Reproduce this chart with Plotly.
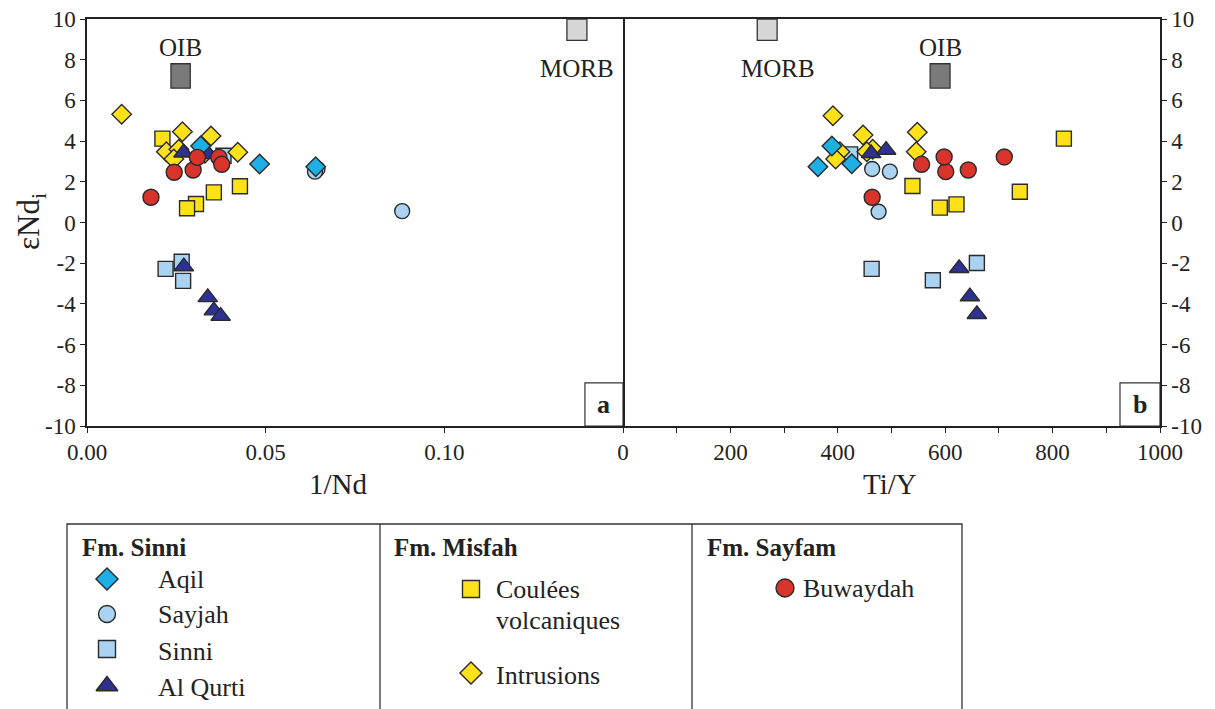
import plotly.graph_objects as go

# page body adds an 8px margin; lay the figure out in reference pixels shifted by it
OFF = 8
W, H = 1215 - OFF, 709 - OFF
FONT = "'Liberation Serif', 'Times New Roman', Times, serif"


def px(x):
    return (x - OFF) / W


def py(y):
    return 1 - (y - OFF) / H


# ---------------- data ----------------
# Panel a: x = 1/Nd, y = eNd_i ; Panel b: x = Ti/Y, y = eNd_i
aqil_a_x = [0.0318, 0.0483, 0.0640]
aqil_a_y = [3.76, 2.87, 2.74]
aqil_b_x = [389, 426, 363]
aqil_b_y = [3.76, 2.89, 2.74]

sayjah_a_x = [0.0645, 0.0638, 0.0882]
sayjah_a_y = [2.63, 2.50, 0.56]
sayjah_b_x = [464, 497, 476]
sayjah_b_y = [2.63, 2.50, 0.53]

sinni_a_x = [0.0382, 0.0220, 0.0265, 0.0269]
sinni_a_y = [3.28, -2.28, -1.93, -2.87]
sinni_b_x = [423, 463, 659, 577]
sinni_b_y = [3.35, -2.28, -1.99, -2.84]

qurti_a_x = [0.0270, 0.0340, 0.0271, 0.0338, 0.0355, 0.0374]
qurti_a_y = [3.43, 3.35, -2.17, -3.68, -4.33, -4.60]
qurti_b_x = [462, 490, 626, 646, 659]
qurti_b_y = [3.40, 3.56, -2.25, -3.64, -4.51]

coulees_a_x = [0.0211, 0.0428, 0.0355, 0.0305, 0.0280]
coulees_a_y = [4.12, 1.78, 1.48, 0.91, 0.70]
coulees_b_x = [821, 539, 739, 621, 590]
coulees_b_y = [4.12, 1.79, 1.51, 0.89, 0.73]

intr_a_x = [0.0097, 0.0267, 0.0347, 0.0222, 0.0257, 0.0243, 0.0422, 0.0330]
intr_a_y = [5.32, 4.46, 4.25, 3.48, 3.60, 3.12, 3.45, 3.40]
intr_b_x = [391, 548, 447, 404, 465, 396, 546, 454]
intr_b_y = [5.25, 4.43, 4.30, 3.48, 3.60, 3.12, 3.48, 3.48]

buw_a_x = [0.0179, 0.0244, 0.0297, 0.0309, 0.0369, 0.0377]
buw_a_y = [1.24, 2.47, 2.58, 3.20, 3.20, 2.86]
buw_b_x = [464, 601, 643, 598, 710, 556]
buw_b_y = [1.24, 2.50, 2.58, 3.22, 3.22, 2.86]

# reservoir boxes
oib_nd = [0.0235, 0.0289]
oib_tiy = [572, 609]
oib_end = [6.6, 7.8]
morb_nd = [0.1343, 0.1399]
morb_tiy = [250, 287]
morb_end = [8.95, 10.0]

x_a_ticks = [0.0, 0.05, 0.10]
x_a_labels = ["0.00", "0.05", "0.10"]
x_b_ticks = [0, 200, 400, 600, 800, 1000]
y_ticks = list(range(-10, 11, 2))
y_labels = [str(v) for v in y_ticks]

# ---------------- styles ----------------
EDGE = dict(color="#2a2a2a", width=1.4)
groups = [
    # name, a_x, a_y, b_x, b_y, symbol, color, size
    ("Sinni", sinni_a_x, sinni_a_y, sinni_b_x, sinni_b_y, "square", "#a9d3f0", 15),
    ("Sayjah", sayjah_a_x, sayjah_a_y, sayjah_b_x, sayjah_b_y, "circle", "#a9d3f0", 15),
    ("Coulées volcaniques", coulees_a_x, coulees_a_y, coulees_b_x, coulees_b_y, "square", "#ffe119", 15),
    ("Intrusions", intr_a_x, intr_a_y, intr_b_x, intr_b_y, "diamond", "#ffe119", 15),
    ("Al Qurti", qurti_a_x, qurti_a_y, qurti_b_x, qurti_b_y, "triangle-up", "#2e3192", 17),
    ("Aqil", aqil_a_x, aqil_a_y, aqil_b_x, aqil_b_y, "diamond", "#1cb0e6", 15),
    ("Buwaydah", buw_a_x, buw_a_y, buw_b_x, buw_b_y, "circle", "#d9342b", 16),
]

fig = go.Figure()
for name, ax, ay, bx, by, sym, col, sz in groups:
    mk = dict(symbol=sym, color=col, size=sz, line=EDGE)
    fig.add_trace(go.Scatter(x=ax, y=ay, mode="markers", marker=mk, name=name,
                             xaxis="x", yaxis="y", showlegend=False, cliponaxis=False))
    fig.add_trace(go.Scatter(x=bx, y=by, mode="markers", marker=mk, name=name,
                             xaxis="x2", yaxis="y2", showlegend=False, cliponaxis=False))

# ---------------- layout geometry ----------------
tickfont = dict(family=FONT, size=23, color="#222")
common_axis = dict(showgrid=False, zeroline=False, showline=True, linecolor="#222",
                   linewidth=1.5, ticks="outside", ticklen=5, tickwidth=1.3,
                   tickcolor="#222", tickfont=tickfont, automargin=False,
                   ticklabeloverflow="allow")

shapes = []
annotations = []
# OIB / MORB boxes
for (xr, xref, yref, yr, col) in [
    (oib_nd, "x", "y", oib_end, "#7a7a7a"), (morb_nd, "x", "y", morb_end, "#d6d6d6"),
    (oib_tiy, "x2", "y2", oib_end, "#7a7a7a"), (morb_tiy, "x2", "y2", morb_end, "#d6d6d6")]:
    shapes.append(dict(type="rect", xref=xref, yref=yref, x0=xr[0], x1=xr[1],
                       y0=yr[0], y1=yr[1], fillcolor=col,
                       line=dict(color="#333", width=1.3), layer="above"))

lbl = dict(family=FONT, size=25, color="#222")
annotations += [
    dict(text="OIB", x=sum(oib_nd) / 2, y=oib_end[1] + 0.05, xref="x", yref="y",
         showarrow=False, font=lbl, xanchor="center", yanchor="bottom"),
    dict(text="MORB", x=sum(morb_nd) / 2, y=morb_end[0] - 0.6, xref="x", yref="y",
         showarrow=False, font=lbl, xanchor="center", yanchor="top"),
    dict(text="OIB", x=sum(oib_tiy) / 2, y=oib_end[1] + 0.05, xref="x2", yref="y2",
         showarrow=False, font=lbl, xanchor="center", yanchor="bottom"),
    dict(text="MORB", x=sum(morb_tiy) / 2 + 20, y=morb_end[0] - 0.6, xref="x2", yref="y2",
         showarrow=False, font=lbl, xanchor="center", yanchor="top"),
]

# panel letter boxes
for xref, yref, letter, fx in [("x domain", "y domain", "a", 0.929), ("x2 domain", "y2 domain", "b", 0.9255)]:
    shapes.append(dict(type="rect", xref=xref, yref=yref, x0=fx, x1=1, y0=0, y1=0.106,
                       line=dict(color="#333", width=1.2), fillcolor="white", layer="below"))
    annotations.append(dict(text="<b>%s</b>" % letter, xref=xref, yref=yref,
                            x=(fx + 1) / 2, y=0.053, xanchor="center", yanchor="middle",
                            showarrow=False, font=dict(family=FONT, size=26, color="#222")))

# axis titles
annotations += [
    dict(text="1/Nd", x=px(338), y=py(484), xref="paper", yref="paper", showarrow=False,
         xanchor="center", yanchor="middle", font=dict(family=FONT, size=29, color="#222")),
    dict(text="Ti/Y", x=px(890), y=py(484), xref="paper", yref="paper", showarrow=False,
         xanchor="center", yanchor="middle", font=dict(family=FONT, size=29, color="#222")),
    dict(text="εNd<sub>i</sub>", x=px(31), y=py(222), xref="paper", yref="paper",
         xanchor="center", yanchor="middle",
         showarrow=False, textangle=-90, font=dict(family=FONT, size=31, color="#222")),
]

# ---------------- legend table ----------------
LT, LB = 524, 730
box_lines = dict(color="#333", width=1.3)
shapes.append(dict(type="rect", xref="paper", yref="paper", x0=px(67), x1=px(962),
                   y0=py(LB), y1=py(LT), line=box_lines, fillcolor="rgba(0,0,0,0)"))
for xv in (380, 692):
    shapes.append(dict(type="line", xref="paper", yref="paper", x0=px(xv), x1=px(xv),
                       y0=py(LB), y1=py(LT), line=box_lines))

head = dict(family=FONT, size=25, color="#222")
item = dict(family=FONT, size=26, color="#222")
for txt, hx in [("Fm. Sinni", 80), ("Fm. Misfah", 392), ("Fm. Sayfam", 705)]:
    annotations.append(dict(text="<b>%s</b>" % txt, x=px(hx), y=py(547), xref="paper",
                            yref="paper", xanchor="left", yanchor="middle", showarrow=False, font=head))

style = {g[0]: (g[5], g[6], g[7]) for g in groups}
legend_items = [
    ("Aqil", 107, 579, "Aqil", 156, 579),
    ("Sayjah", 107, 614, "Sayjah", 156, 614),
    ("Sinni", 107, 649, "Sinni", 156, 651),
    ("Al Qurti", 107, 686, "Al Qurti", 156, 687),
    ("Coulées volcaniques", 471, 589, "Coulées", 494, 589),
    ("Intrusions", 471, 673, "Intrusions", 494, 675),
    ("Buwaydah", 785, 588, "Buwaydah", 801, 588),
]
for key, mx, my, txt, tx, ty in legend_items:
    sym, col, sz = style[key]
    fig.add_trace(go.Scatter(x=[mx - OFF], y=[my - OFF], mode="markers", xaxis="x3", yaxis="y3",
                             marker=dict(symbol=sym, color=col, size=sz + 2, line=EDGE),
                             showlegend=False, cliponaxis=False, hoverinfo="skip"))
    annotations.append(dict(text=txt, x=px(tx), y=py(ty), xref="paper", yref="paper",
                            xanchor="left", yanchor="middle", showarrow=False, font=item))
annotations.append(dict(text="volcaniques", x=px(494), y=py(620), xref="paper", yref="paper",
                        xanchor="left", yanchor="middle", showarrow=False, font=item))

fig.update_layout(
    width=W, height=H, margin=dict(l=0, r=0, t=0, b=0, autoexpand=False),
    paper_bgcolor="white", plot_bgcolor="rgba(0,0,0,0)",
    font=dict(family=FONT),
    xaxis=dict(domain=[px(87), px(623)], range=[0, 0.15], anchor="y", tickvals=x_a_ticks,
               ticktext=x_a_labels, mirror=True, **common_axis),
    yaxis=dict(domain=[py(426), py(19)], range=[-10, 10], anchor="x", tickvals=y_ticks,
               ticktext=y_labels, mirror=True, **common_axis),
    xaxis2=dict(domain=[px(623), px(1160)], range=[0, 1000], anchor="y2", tickvals=x_b_ticks,
                minor=dict(tickvals=list(range(100, 1000, 200)), ticks="outside",
                           ticklen=5, tickcolor="#222", tickwidth=1.3),
                mirror=True, **common_axis),
    yaxis2=dict(domain=[py(426), py(19)], range=[-10, 10], anchor="x2", side="right",
                tickvals=y_ticks, ticktext=y_labels, mirror=False, **common_axis),
    xaxis3=dict(domain=[0, 1], range=[0, W], visible=False, anchor="y3", automargin=False),
    yaxis3=dict(domain=[0, 1], range=[H, 0], visible=False, anchor="x3", automargin=False),
    shapes=shapes, annotations=annotations, showlegend=False,
)

fig.write_html("out.html")
